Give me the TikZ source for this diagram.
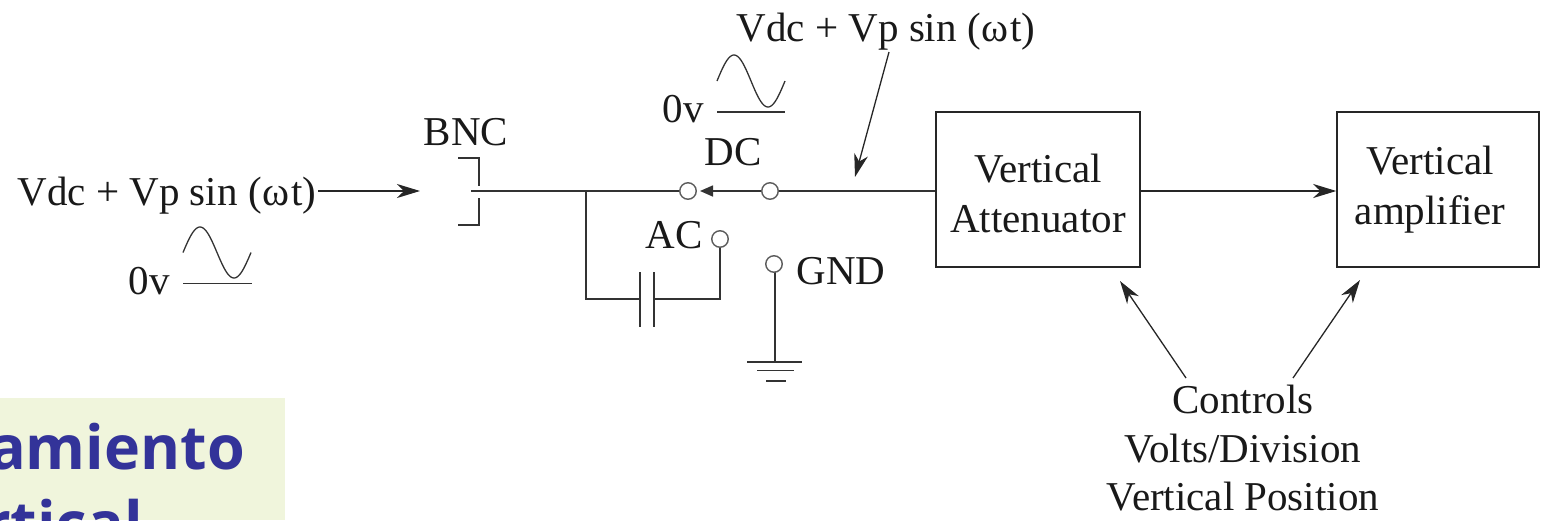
\documentclass[tikz,border=0pt]{standalone}
\usepackage{fontspec}
\setmainfont{Liberation Serif}
\newfontfamily\titlefont{Open Sans}
\usetikzlibrary{arrows.meta}
\definecolor{titleink}{HTML}{333399}
\definecolor{titlebg}{HTML}{F0F5DC}
\definecolor{wire}{HTML}{333333}
\tikzset{
  x=1pt,y=-1pt,
  lbl/.style={inner sep=0pt,anchor=base,font=\fontsize{41}{41}\selectfont,text=black!90},
  blockbox/.style={draw=black!85,line width=1.5pt,inner sep=0pt,fill=white},
  term/.style={circle,draw=wire!80,line width=1.4pt,fill=white,minimum size=16.5pt,inner sep=0pt},
  wireline/.style={draw=wire,line width=1.6pt},
  thin line/.style={draw=wire,line width=1.3pt},
  sarrow/.style={draw=black!85,line width=1.3pt,-{Stealth[length=23pt,width=14pt,inset=7pt]}},
  title/.style={inner sep=0pt,font=\titlefont\bfseries\fontsize{61}{61}\selectfont,text=titleink},
}
\begin{document}
\begin{tikzpicture}
\useasboundingbox (0,0) rectangle (1547,520);
\clip (0,0) rectangle (1547,520);
% title panel
\fill[titlebg] (0,398) rectangle (285,520);
\node[title,anchor=base east] (t1) at (245,469) {amiento};
\node[title,anchor=base east] (t2) at (143,545) {rtical};
% blocks
\node[blockbox,minimum width=204pt,minimum height=155pt] (att) at (1038,189.5) {};
\node[blockbox,minimum width=202pt,minimum height=155pt] (amp) at (1438,189.5) {};
\node[lbl] (att1) at (1038,182) {Vertical};
\node[lbl] (att2) at (1038,232) {Attenuator};
\node[lbl] (amp1) at (1430,174) {Vertical};
\node[lbl] (amp2) at (1430,224) {amplifier};
% labels
\node[lbl] (vin) at (167,205) {Vdc + Vp sin (\kern1pt ω\kern1.5pt t)};
\node[lbl] (vtop) at (886,41) {Vdc + Vp sin (\kern1pt ω\kern1.5pt t)};
\node[lbl] (bnc) at (466,145) {BNC};
\node[lbl] (dc) at (733,165) {DC};
\node[lbl] (ac) at (674,248) {AC};
\node[lbl] (gnd) at (841,284) {GND};
\node[lbl] (zl) at (149,294) {0v};
\node[lbl] (zm) at (683,122) {0v};
\node[lbl] (c1) at (1243,413) {Controls};
\node[lbl] (c2) at (1243,462) {Volts/Division};
\node[lbl] (c3) at (1243,510) {Vertical Position};
% named points
\coordinate (bncin) at (471,191);
\coordinate (tee) at (586,191);
\coordinate (corner) at (586,299);
\coordinate (capl) at (640,299);
\coordinate (capr) at (654,299);
\coordinate (acc) at (720,299);
\coordinate (gbot) at (775,362);
\coordinate (inbeg) at (318,191);
\coordinate (inend) at (420,191);
\coordinate (vtail) at (889,52);
\coordinate (vhead) at (855,177);
\coordinate (ctl) at (1186,378);
\coordinate (ctla) at (1120,281);
\coordinate (ctr) at (1293,378);
\coordinate (ctra) at (1360,280);
% wires
\draw[wireline] (bncin) -- (680,191);
\draw[wireline] (att.west |- tee) -- (778,191);
\draw[wireline] (tee) -- (corner) -- (capl);
\draw[wireline] (capr) -- (acc) -- (720,247);
\draw[wireline] (775,272) -- (gbot);
\draw[wireline] (640,272) -- (640,327);
\draw[wireline] (654,272) -- (654,327);
\draw[wireline] (747,362) -- (802,362);
\draw[wireline] (757,370.5) -- (794,370.5);
\draw[wireline] (766,381) -- (786,381);
\draw[wireline] (458,158) -- (479,158) -- (479,186);
\draw[wireline] (458,225) -- (479,225) -- (479,198);
% terminals
\node[term] (tdl) at (688,191) {};
\node[term] (tdr) at (770,191) {};
\node[term] (tac) at (720,239) {};
\node[term] (tgnd) at (774,264) {};
\draw[wireline,-{Stealth[length=13pt,width=11pt,inset=0pt]}] (tdr) -- (700,191);
% arrows
\draw[sarrow] (inbeg) -- (inend);
\draw[sarrow] (att.east |- tee) -- (amp.west |- tee);
\draw[sarrow] (vtail) -- (vhead);
\draw[sarrow] (ctl) -- (ctla);
\draw[sarrow] (ctr) -- (ctra);
% sine waves
\draw[thin line] (183,283.5) -- (252,283.5);
\draw[thin line,domain=0:68,samples=60,smooth] plot ({183+\x},{252.5-25.5*sin(\x/68*360)});
\draw[thin line] (717,112) -- (785,112);
\draw[thin line,domain=0:68,samples=60,smooth] plot ({717+\x},{81-26*sin(\x/68*360)});
\end{tikzpicture}
\end{document}
